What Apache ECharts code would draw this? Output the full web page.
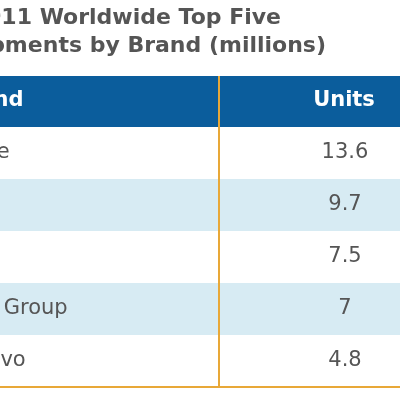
<!DOCTYPE html><html><head><meta charset="utf-8">
<script src="https://cdn.jsdelivr.net/npm/echarts@6/dist/echarts.min.js"></script>
<style>html,body{margin:0;padding:0;background:#fff}#c{width:400px;height:400px}</style></head>
<body><div id="c"></div><script>
const titleLines = ['2011 Worldwide Top Five', 'PC Shipments by Brand (millions)'];
const headers = ['Brand', 'Units'];
const brands = ['Apple', 'HP', 'Dell', 'Acer Group', 'Lenovo'];
const units = ['13.6', '9.7', '7.5', '7', '4.8'];

const chart = echarts.init(document.getElementById('c'));
const font = '"DejaVu Sans", Verdana, sans-serif';
chart.setOption({
  animation: false,
  grid: {left: 0, right: 0, top: 127, bottom: 13},
  xAxis: {type: 'value', min: 0, max: 400, show: false},
  yAxis: {type: 'category', data: brands, inverse: true, show: false},
  graphic: [
    {type: 'text', right: 119, top: 7, style: {text: titleLines[0], font: 'bold 22px ' + font, fill: '#555', textAlign: 'right'}},
    {type: 'text', right: 74, top: 35, style: {text: titleLines[1], font: 'bold 22px ' + font, fill: '#555', textAlign: 'right'}},
    {type: 'rect', shape: {x: 0, y: 76, width: 400, height: 51}, style: {fill: '#0b5d9c'}},
    {type: 'text', x: -47, y: 101, style: {text: headers[0], font: 'bold 21px ' + font, fill: '#fff', textVerticalAlign: 'middle'}},
    {type: 'text', x: 344, y: 101, style: {text: headers[1], font: 'bold 21px ' + font, fill: '#fff', textAlign: 'center', textVerticalAlign: 'middle'}},
    {type: 'rect', shape: {x: 218, y: 76, width: 2, height: 312}, style: {fill: '#e8a838'}, z: 10},
    {type: 'rect', shape: {x: 0, y: 386, width: 400, height: 2}, style: {fill: '#e8a838'}, z: 10}
  ],
  series: [{
    type: 'custom',
    data: brands.map((b, i) => [0, i]),
    renderItem: function (params, api) {
      const i = api.value(1);
      const p = api.coord([0, i]);
      const size = api.size([0, 1]);
      const h = size[1];
      const top = p[1] - h / 2;
      return {type: 'group', children: [
        {type: 'rect', shape: {x: 0, y: top, width: 400, height: h}, style: {fill: i % 2 ? '#d7ebf3' : '#fff'}},
        {type: 'text', x: api.coord([-50, i])[0], y: p[1], style: {text: brands[i], font: '21px ' + font, fill: '#555', textVerticalAlign: 'middle'}},
        {type: 'text', x: api.coord([345, i])[0], y: p[1], style: {text: units[i], font: '21px ' + font, fill: '#555', textAlign: 'center', textVerticalAlign: 'middle'}}
      ]};
    }
  }]
});
</script></body></html>
